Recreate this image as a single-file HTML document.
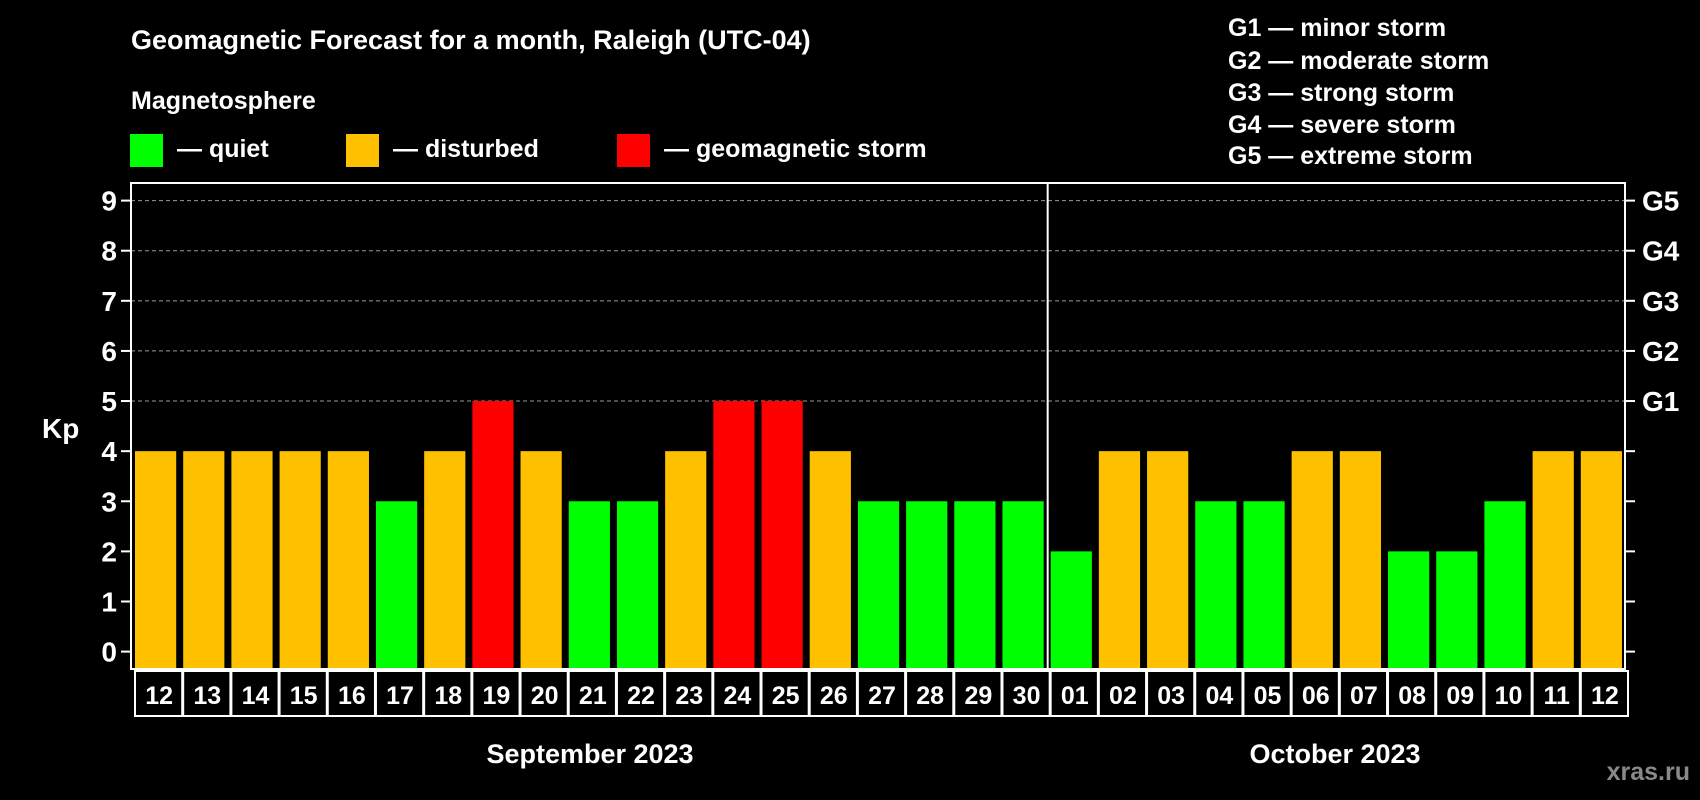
<!DOCTYPE html>
<html><head><meta charset="utf-8"><style>
html,body{margin:0;padding:0;background:#000;width:1700px;height:800px;overflow:hidden}
svg text{font-family:"Liberation Sans",Arial,sans-serif;font-weight:bold;fill:#fff}
</style></head><body>
<svg id="chart" width="1700" height="800" viewBox="0 0 1700 800">
<text x="131" y="49" font-size="27">Geomagnetic Forecast for a month, Raleigh (UTC-04)</text>
<text x="131" y="109" font-size="25">Magnetosphere</text>
<g><rect x="130" y="134" width="33" height="33" fill="#00ff00"/><text x="177" y="157" font-size="25">— quiet</text></g>
<g><rect x="346" y="134" width="33" height="33" fill="#ffc000"/><text x="393" y="157" font-size="25">— disturbed</text></g>
<g><rect x="617" y="134" width="33" height="33" fill="#ff0000"/><text x="664" y="157" font-size="25">— geomagnetic storm</text></g>
<g font-size="25">
<text x="1228" y="36">G1 — minor storm</text>
<text x="1228" y="69">G2 — moderate storm</text>
<text x="1228" y="101">G3 — strong storm</text>
<text x="1228" y="133">G4 — severe storm</text>
<text x="1228" y="164">G5 — extreme storm</text>
</g>
<text x="42" y="438" font-size="28">Kp</text>
<text x="1690" y="780" font-size="25" text-anchor="end" fill="#888" style="fill:#8a8a8a">xras.ru</text>
<text x="590" y="763" font-size="27" text-anchor="middle">September 2023</text>
<text x="1335" y="763" font-size="27" text-anchor="middle">October 2023</text>
<g id="grid"></g><g id="bars"></g><g id="axes"></g>
</svg>
<script>
const days = ["12","13","14","15","16","17","18","19","20","21","22","23","24","25","26","27","28","29","30","01","02","03","04","05","06","07","08","09","10","11","12"];
const kp = [4,4,4,4,4,3,4,5,4,3,3,4,5,5,4,3,3,3,3,2,4,4,3,3,4,4,2,2,3,4,4];
const yTicks = [0,1,2,3,4,5,6,7,8,9];
const gLabels = ["G1","G2","G3","G4","G5"];
const gLevels = [5,6,7,8,9];
const monthSplit = 19;

const NS="http://www.w3.org/2000/svg";
const L=131,R=1625,T=183,B=669,Y0=651.6,Y9=200.6;
const y=v=>Y0+(Y0-Y9)/9*(-v);
const pitch=(R-L)/days.length;
const x=i=>L+i*pitch;
function mk(tag,attrs,parent){const e=document.createElementNS(NS,tag);for(const k in attrs)e.setAttribute(k,attrs[k]);parent.appendChild(e);return e;}
const grid=document.getElementById('grid'),bars=document.getElementById('bars'),axes=document.getElementById('axes');
const color=v=>v>=5?"#ff0000":(v>=4?"#ffc000":"#00ff00");
for(const t of yTicks){
  if(t>=5){const g=mk('line',{x1:L,x2:R,y1:y(t),y2:y(t),stroke:"#999","stroke-dasharray":"4,3","stroke-width":1},grid);
  
  }
  const tl=mk('line',{x1:L-10,x2:L,y1:y(t),y2:y(t),stroke:"#fff","stroke-width":2},axes);
  
  
  const tr=mk('line',{x1:R,x2:R+10,y1:y(t),y2:y(t),stroke:"#fff","stroke-width":2},axes);
  
  
  const lab=mk('text',{x:L-14,y:y(t)+10,"font-size":28,"text-anchor":"end"},axes);
  lab.textContent=t;
  
  
}
gLabels.forEach((g,i)=>{
  const t=mk('text',{x:R+17,y:y(gLevels[i])+10,"font-size":28},axes);
  t.textContent=g;
  
  
});
kp.forEach((v,i)=>{
  const r=mk('rect',{x:x(i)+4,y:y(v),width:pitch-7,height:B-y(v),fill:color(v)},bars);
  
  
  const c=mk('rect',{x:x(i)+4,y:B+2,width:pitch-1,height:45,fill:"none",stroke:"#fff","stroke-width":2},axes);
  
  
  const t=mk('text',{x:x(i)+4+pitch/2,y:B+35,"font-size":25,"text-anchor":"middle"},axes);
  t.textContent=days[i];
  
  
});
const box=mk('rect',{x:L,y:T,width:R-L,height:B-T,fill:"none",stroke:"#fff","stroke-width":2},axes);


const d=mk('line',{x1:x(monthSplit)+1,x2:x(monthSplit)+1,y1:T,y2:B,stroke:"#fff","stroke-width":2},axes);


</script>
</body></html>
